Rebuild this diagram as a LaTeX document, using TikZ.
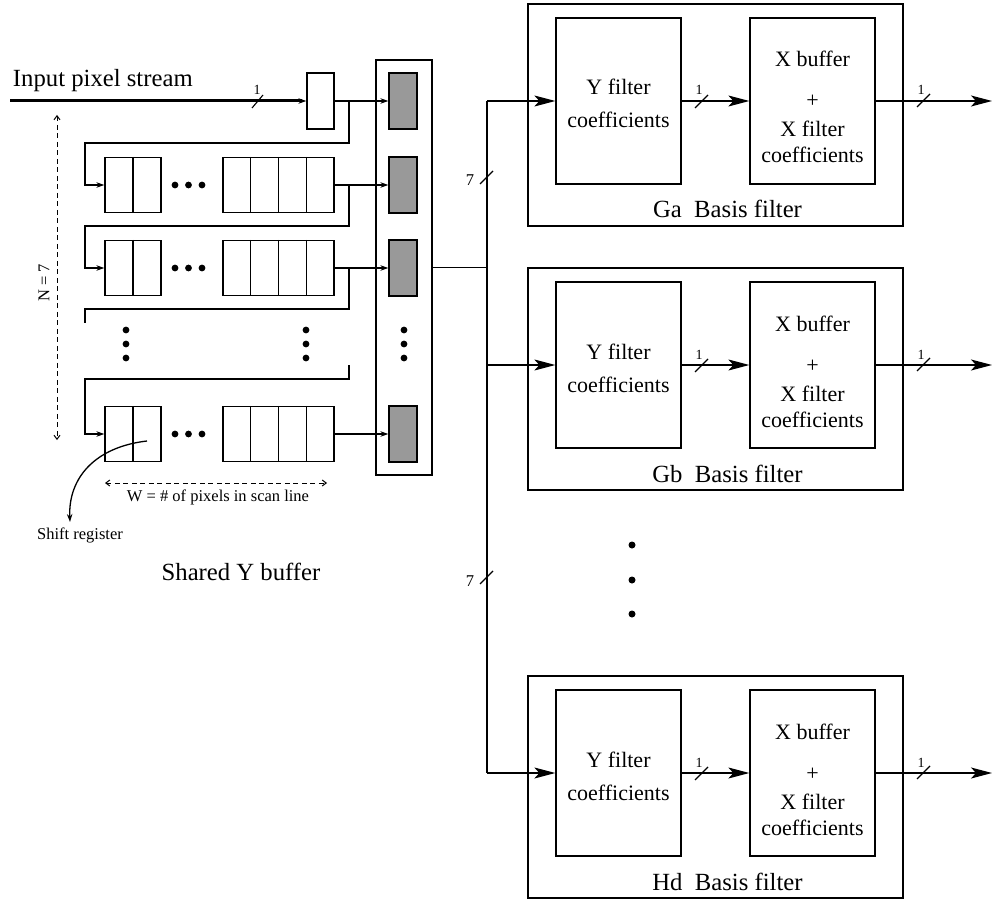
\documentclass[tikz,border=0pt]{standalone}
\usepackage{fontspec}
\setmainfont{Liberation Serif}
\usetikzlibrary{arrows.meta,calc}
\definecolor{shade}{gray}{0.6}
\begin{document}
\begin{tikzpicture}[x=1pt,y=-1pt, line width=1.3pt,
  box/.style={draw, rectangle, inner sep=0pt, line width=1.3pt},
  reg/.style={box, minimum height=55pt},
  shbox/.style={box, fill=shade, minimum width=28pt, minimum height=56pt},
  big/.style={font=\fontsize{24.7}{28}\selectfont},
  mid/.style={font=\fontsize{22}{26}\selectfont},
  small/.style={font=\fontsize{16.5}{19}\selectfont},
  tiny/.style={font=\fontsize{14}{16}\selectfont},
  sarr/.style={-{Stealth[length=8pt,width=5.5pt]}},
  barr/.style={-{Stealth[length=21pt,width=11pt,inset=5pt]}},
  darr/.style={line width=1pt, dash pattern=on 5pt off 3.5pt,
    {Straight Barb[length=4pt,width=6pt]}-{Straight Barb[length=4pt,width=6pt]}},
  slash/.style={line width=1.1pt},
]
\useasboundingbox (0,0) rectangle (992,901);

% ---------------- shared Y buffer ----------------
\node[big, anchor=base west] (inlabel) at (9,87) {Input pixel stream};
\node[box, minimum width=27pt, minimum height=56pt] (inreg) at (320.5,101) {};
\node[box, minimum width=56pt, minimum height=415pt] (tall) at (404,267.5) {};
\node[shbox] (sh1) at (403,101) {};
\node[shbox] (sh2) at (403,185) {};
\node[shbox] (sh3) at (403,268) {};
\node[shbox] (sh4) at (403,434) {};

\foreach \r/\y in {1/185, 2/268, 4/434}{
  \node[reg, minimum width=56pt] (r\r a) at (133,\y) {};
  \node[reg, minimum width=111pt] (r\r b) at (278.5,\y) {};
  \draw (r\r a.north) -- (r\r a.south);
  \foreach \f in {0.25,0.5,0.75}{
    \draw ($(r\r b.north west)!\f!(r\r b.north east)$) -- ($(r\r b.south west)!\f!(r\r b.south east)$);
  }
  \foreach \dx in {175,188.5,202}{ \fill (\dx,\y) circle (3.4pt); }
}
% vertical dots
\foreach \dx in {126,306,404}{
  \foreach \dy in {330,344,358}{ \fill (\dx,\dy) circle (3.4pt); }
}

% input stream
\coordinate (instart) at (10,101);
\draw[line width=3pt, sarr] (instart) -- (inreg.west);
\draw[slash] (252,108) -- (263,95);
\node[tiny, anchor=base] (one0) at (257,95) {1};

% routing
\draw[sarr] (inreg.east) -- (sh1.west);
\draw[sarr] (349,101) -- (349,143) -- (85,143) |- (r1a.west);
\draw[sarr] (r1b.east) -- (sh2.west);
\draw[sarr] (349,185) -- (349,226) -- (85,226) |- (r2a.west);
\draw[sarr] (r2b.east) -- (sh3.west);
\draw (349,268) -- (349,309) -- (85,309) -- (85,323);
\draw[sarr] (349,365) -- (349,379) -- (85,379) |- (r4a.west);
\draw[sarr] (r4b.east) -- (sh4.west);

% N and W dimension arrows
\coordinate (ntop) at (57,115);
\coordinate (nbot) at (57,440);
\draw[darr] (ntop) -- (nbot);
\node[small, rotate=90] (nlab) at (44,283) {N = 7};
\coordinate (wl) at (105,483);
\coordinate (wr) at (327,483);
\draw[darr] (wl) -- (wr);
\node[small] (wlab) at (218,497) {W = \# of pixels in scan line};

% shift register pointer
\coordinate (srs) at (147,441);
\coordinate (sre) at (70,522);
\draw[sarr] (srs) .. controls (95,447) and (68,478) .. (sre);
\node[small, anchor=north] (srlab) at (80,524) {Shift register};

\node[big] (shared) at (241,572) {Shared Y buffer};

% ---------------- bus ----------------
\coordinate (bustop) at (487,101);
\coordinate (busbot) at (487,773);
\coordinate (busmid) at (487,267.5);
\draw (tall.east) -- (busmid);
\draw (bustop) -- (busbot);
\draw[slash] (480,184) -- (493,171);
\node[small, anchor=base] (seven1) at (470,186) {7};
\draw[slash] (480,584) -- (493,571);
\node[small, anchor=base] (seven2) at (470,586) {7};

% ---------------- filter blocks ----------------
\foreach \t/\n/\l in {4/ga/Ga, 268/gb/Gb, 676/hd/Hd}{
  \node[box, minimum width=375pt, minimum height=222pt] (F\n) at (715.5,\t+111) {};
  \node[box, minimum width=125pt, minimum height=166pt] (Y\n) at (618.5,\t+97) {};
  \node[box, minimum width=125pt, minimum height=166pt] (X\n) at (812.5,\t+97) {};
  \node[mid, anchor=base] (ya\n) at (618.5,\t+91) {Y filter};
  \node[mid, anchor=base] (yb\n) at (618.5,\t+124) {coefficients};
  \node[mid, anchor=base] (xa\n) at (812.5,\t+63) {X buffer};
  \node[mid, anchor=base] (xp\n) at (812.5,\t+104) {+};
  \node[mid, anchor=base] (xb\n) at (812.5,\t+133) {X filter};
  \node[mid, anchor=base] (xc\n) at (812.5,\t+159) {coefficients};
  \node[big, anchor=base] (lab\n) at (727.5,\t+214) {\l\ \ Basis filter};
  \draw[barr] (bustop |- Y\n.west) -- (Y\n.west);
  \draw[barr] (Y\n.east) -- (X\n.west);
  \draw[slash] (695,\t+104) -- (708,\t+91);
  \node[tiny, anchor=base] (o1\n) at (699,\t+91) {1};
  \coordinate (O\n) at (992,\t+97);
  \draw[barr] (X\n.east) -- (O\n);
  \draw[slash] (917,\t+103) -- (930,\t+90);
  \node[tiny, anchor=base] (o2\n) at (921,\t+91) {1};
}

% dots between filters
\foreach \dy in {545,580,614}{ \fill (632,\dy) circle (3.5pt); }
\end{tikzpicture}
\end{document}
